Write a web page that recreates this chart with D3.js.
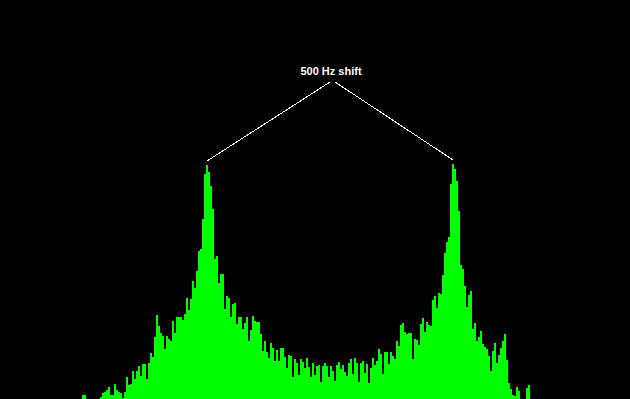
<!DOCTYPE html>
<html>
<head>
<meta charset="utf-8">
<script src="https://cdn.jsdelivr.net/npm/d3@7/dist/d3.min.js"></script>
<style>
  html, body { margin: 0; padding: 0; background: #000; overflow: hidden; }
  svg { display: block; }
</style>
</head>
<body>
<div id="chart"></div>
<script>
// FSK audio spectrum, one value per FFT bin (level above floor)
const levels = [
  4, 4, 0, 0, 0, 0, 0, 0, 0, 2,
  6, 7, 9, 12, 4, 4, 15, 9, 7, 6,
  1, 7, 22, 14, 15, 28, 20, 28, 33, 23,
  35, 35, 20, 36, 46, 42, 62, 84, 73, 66,
  63, 50, 63, 60, 58, 78, 66, 82, 82, 82,
  79, 85, 101, 89, 100, 118, 111, 128, 148, 150,
  180, 225, 234, 227, 213, 190, 140, 143, 116, 125,
  125, 90, 103, 101, 82, 95, 96, 75, 82, 82,
  70, 76, 82, 58, 69, 83, 78, 77, 77, 65,
  48, 58, 47, 41, 56, 51, 38, 49, 38, 51,
  51, 42, 31, 44, 43, 22, 40, 36, 24, 40,
  37, 31, 41, 32, 22, 36, 24, 33, 34, 17,
  33, 36, 33, 22, 33, 28, 18, 34, 37, 30,
  34, 27, 23, 36, 40, 25, 41, 36, 17, 36,
  38, 26, 35, 16, 31, 41, 34, 38, 50, 45,
  25, 47, 47, 35, 47, 43, 40, 58, 53, 74,
  76, 67, 65, 66, 66, 40, 60, 59, 54, 75,
  81, 67, 77, 74, 73, 99, 103, 91, 106, 105,
  124, 146, 157, 162, 215, 235, 230, 218, 188, 134,
  130, 113, 92, 104, 108, 70, 76, 58, 62, 68,
  55, 52, 50, 43, 28, 48, 56, 36, 44, 51,
  58, 65, 39, 16, 10, 4, 3, 12, 8, 0,
  0, 0, 11, 14
];

// annotation text and the two tones it points at (bin ranges to search)
const labels = ['500 Hz shift'];
const toneRanges = [[40, 100], [160, 210]];

const width = 630,
  height = 399,
  plot = {left: 82, barWidth: 2, top: 159},
  levelMax = 240,
  barColor = '#00ff00';

const svg = d3.select('#chart').append('svg')
  .attr('width', width)
  .attr('height', height)
  .style('background', '#000');

const x = d3.scaleLinear()
  .domain([0, levels.length])
  .range([plot.left, plot.left + plot.barWidth * levels.length]);

const y = d3.scaleLinear()
  .domain([0, levelMax])
  .range([height, plot.top]);

// spectrum bars
svg.append('g')
  .attr('shape-rendering', 'crispEdges')
  .selectAll('rect')
  .data(levels)
  .join('rect')
    .attr('x', (d, i) => x(i))
    .attr('width', (d, i) => x(i + 1) - x(i))
    .attr('y', d => y(d))
    .attr('height', d => y(0) - y(d))
    .attr('fill', barColor);

// peaks of each tone
const peaks = toneRanges.map(([a, b]) => {
  const i = a + d3.maxIndex(levels.slice(a, b));
  return {x: x(i + 0.5), y: y(levels[i]) - 4};
});

const label = {x: 331, y: 75},
  apex = {y: 82, gap: 2.5, cx: 332.5};

svg.append('text')
  .attr('x', label.x)
  .attr('y', label.y)
  .attr('text-anchor', 'middle')
  .attr('fill', '#fff')
  .style('font-family', '"Liberation Sans", Arial, sans-serif')
  .style('font-weight', 'bold')
  .style('font-size', '11px')
  .text(labels[0]);

svg.append('g')
  .attr('shape-rendering', 'crispEdges')
  .selectAll('line')
  .data(peaks)
  .join('line')
    .attr('x1', (d, i) => apex.cx + (i === 0 ? -apex.gap : apex.gap))
    .attr('y1', apex.y)
    .attr('x2', d => d.x)
    .attr('y2', d => d.y)
    .attr('stroke', '#fff')
    .attr('stroke-width', 1);
</script>
</body>
</html>
